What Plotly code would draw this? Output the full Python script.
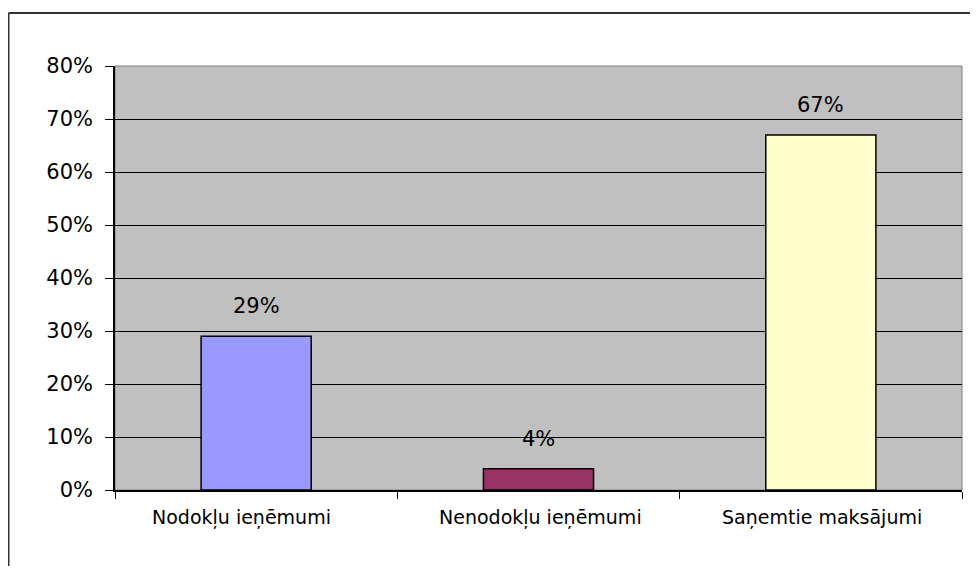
import plotly.graph_objects as go

categories = ["Nodokļu ieņēmumi", "Nenodokļu ieņēmumi", "Saņemtie maksājumi"]
values = [0.29, 0.04, 0.67]
labels = ["29%", "4%", "67%"]
colors = ["#9999FF", "#993366", "#FFFFCC"]
y_ticks = [0, 0.1, 0.2, 0.3, 0.4, 0.5, 0.6, 0.7, 0.8]
y_ticktext = ["0%", "10%", "20%", "30%", "40%", "50%", "60%", "70%", "80%"]

font_family = "DejaVu Sans, Verdana, sans-serif"

W, H = 962, 558
L, R, T, B = 107, 8, 58, 76
pw, ph = W - L - R, H - T - B

fig = go.Figure()
fig.add_trace(go.Bar(
    x=categories, y=values,
    marker=dict(color=colors, line=dict(color="#000000", width=1.5)),
    width=0.39,
    hoverinfo="skip",
))

for c, v, t in zip(categories, values, labels):
    fig.add_annotation(x=c, y=v, text=t, showarrow=False, yanchor="bottom",
                       yshift=16, font=dict(family=font_family, size=21, color="#000000"))

# category labels (first one sits slightly left of its slot, as in the original)
label_shifts = [-15, 2, 1]
for c, s in zip(categories, label_shifts):
    fig.add_annotation(x=c, y=0, yref="paper", text=c, showarrow=False,
                       yanchor="middle", yshift=-27, xshift=s,
                       font=dict(family=font_family, size=19, color="#000000"))

fig.update_layout(
    width=W, height=H,
    margin=dict(l=L, r=R, t=T, b=B),
    paper_bgcolor="#FFFFFF",
    plot_bgcolor="#C0C0C0",
    showlegend=False,
    font=dict(family=font_family, size=19, color="#000000"),
)

fig.update_yaxes(
    range=[0, 0.8], tickvals=y_ticks, ticktext=y_ticktext,
    showgrid=True, gridcolor="#000000", gridwidth=1,
    showline=True, linecolor="#000000", linewidth=1.5,
    ticks="outside", ticklen=8, tickcolor="#000000",
    ticklabelstandoff=8,
    zeroline=False, fixedrange=True,
    tickfont=dict(family=font_family, size=21),
)
fig.update_xaxes(
    showgrid=False, showline=True, linecolor="#000000", linewidth=1.5,
    ticks="outside", ticklen=7, tickcolor="#000000", tickson="boundaries",
    showticklabels=False,
)

# plot area frame (right and top) in grey
fig.add_shape(type="rect", xref="paper", yref="paper", x0=0, y0=0, x1=1, y1=1,
              line=dict(color="#808080", width=1), layer="below")
# outer chart border (left and top visible)
bx0 = (0.5 - L) / pw
by1 = (H - B - 5) / ph
fig.add_shape(type="line", xref="paper", yref="paper", x0=bx0, x1=bx0,
              y0=-(B + 10) / ph, y1=by1, line=dict(color="#333333", width=2))
fig.add_shape(type="line", xref="paper", yref="paper", x0=bx0, x1=(W - L + 10) / pw,
              y0=by1, y1=by1, line=dict(color="#333333", width=2))

fig.write_html("out.html")
